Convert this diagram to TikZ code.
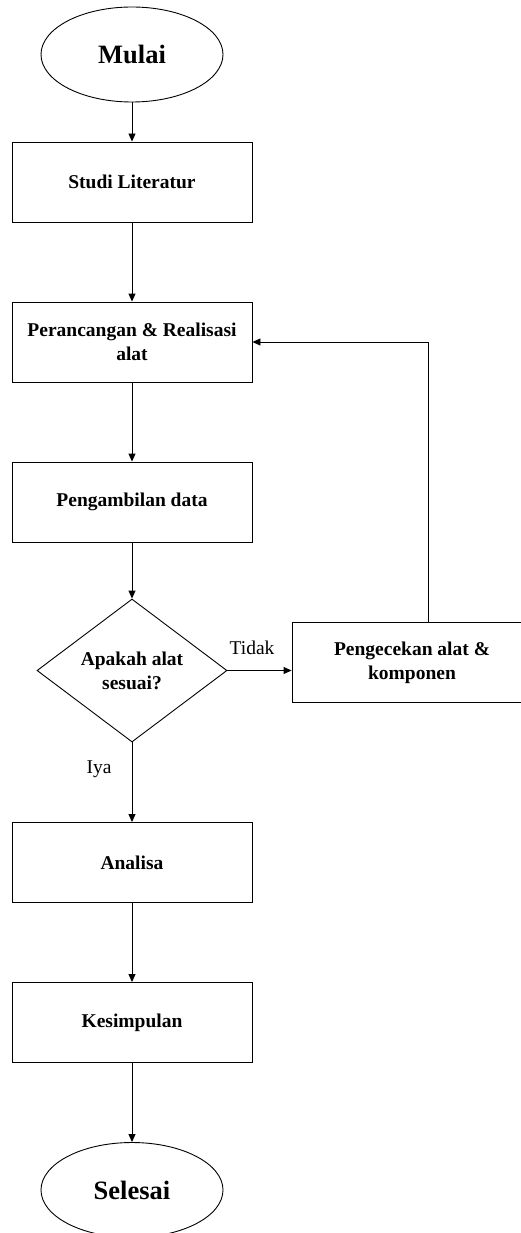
\documentclass[tikz,border=0pt]{standalone}
\usepackage{fontspec}
\setmainfont{Liberation Serif}
\usetikzlibrary{shapes.geometric,arrows.meta}
\tikzset{
  box/.style={draw, line width=0.9pt, rectangle, minimum width=240pt, minimum height=80pt, inner sep=0pt, align=center, font=\fontsize{19.5}{24}\selectfont\bfseries},
  term/.style={draw, line width=0.9pt, ellipse, minimum width=182pt, minimum height=95pt, inner sep=0pt, font=\fontsize{26.5}{30}\selectfont\bfseries},
  decide/.style={draw, line width=0.9pt, diamond, aspect=1.33, minimum width=190pt, minimum height=143pt, inner sep=0pt, align=center, font=\fontsize{19.5}{24}\selectfont\bfseries},
  lbl/.style={inner sep=0pt, font=\fontsize{19.5}{24}\selectfont},
  conn/.style={line width=0.9pt, -{Triangle[length=8pt,width=7pt]}}
}
\begin{document}
\begin{tikzpicture}[x=1pt,y=-1pt]
\useasboundingbox (0,0) rectangle (521,1233);
\clip (0,0) rectangle (521,1233);
\node[term] (mulai) at (132,54.5) {Mulai};
\node[box] (studi) at (132,182) {Studi Literatur};
\node[box] (rancang) at (132,342) {Perancangan \& Realisasi\\alat};
\node[box] (ambil) at (132,502) {Pengambilan data};
\node[decide] (cek) at (132,670.5) {Apakah alat\\sesuai?};
\node[box] (periksa) at (412,662.5) {Pengecekan alat \&\\komponen};
\node[box] (analisa) at (132,862.5) {Analisa};
\node[box] (simpul) at (132,1022.5) {Kesimpulan};
\node[term] (selesai) at (132,1190) {Selesai};
\coordinate (up) at (428,342);
\draw[conn] (mulai) -- (studi);
\draw[conn] (studi) -- (rancang);
\draw[conn] (rancang) -- (ambil);
\draw[conn] (ambil) -- (cek);
\draw[conn] (cek.east) -- (cek.east -| periksa.west);
\draw[conn] (up |- periksa.north) -- (up) -- (rancang.east);
\draw[conn] (cek) -- (analisa);
\draw[conn] (analisa) -- (simpul);
\draw[conn] (simpul) -- (selesai);
\node[lbl] (tidak) at (252,648) {Tidak};
\node[lbl] (iya) at (99,769) {Iya};
\end{tikzpicture}
\end{document}
